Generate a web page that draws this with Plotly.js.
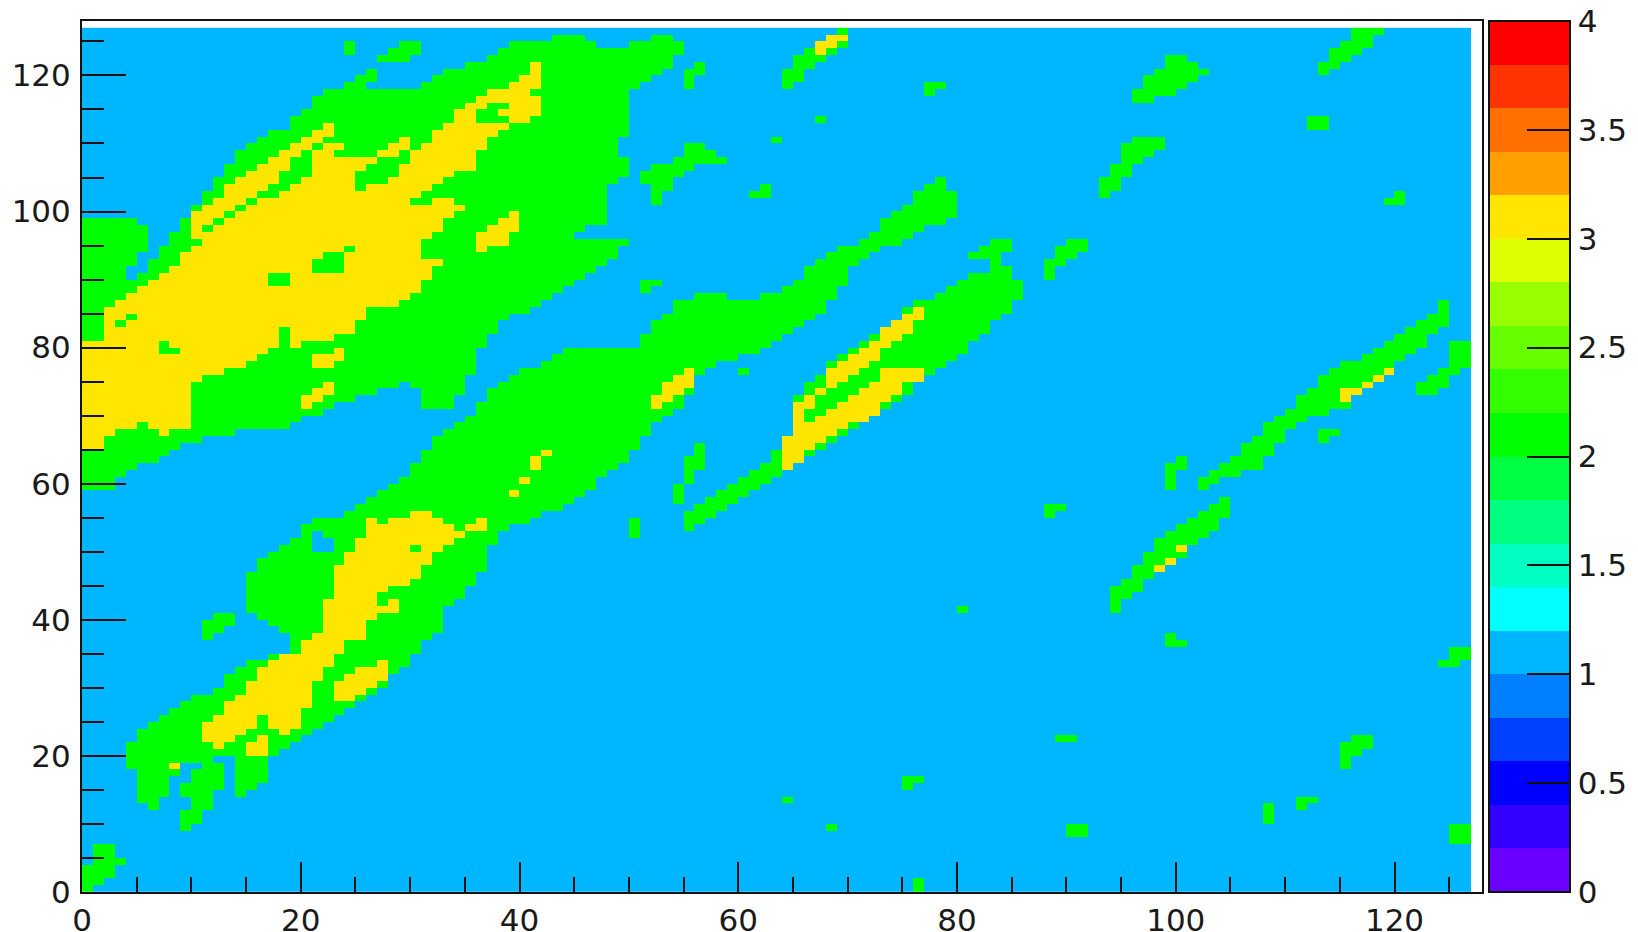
<!DOCTYPE html>
<html><head><meta charset="utf-8">
<script src="https://cdn.plot.ly/plotly-3.0.1.min.js"></script>
<style>html,body{margin:0;padding:0;background:#fff;overflow:hidden}#p{width:1638px;height:932px}</style>
</head><body><div id="p"></div>
<script>
// Each row: [y, from, to, from, to, ...]
const greenA=[[59,0,3],[60,0,3.5],[61,0,4],[62,0,5.5],[63,0,7],[64,0,8],[65,0,9.5],[66,0,11],[67,0,14.5],[68,0,19],[69,0,20],[70,0,22],
[71,0,23,31,34],[72,0,25,31,34.5],[73,0,27,31,35],[74,0,29,30.5,35.5],[75,0,35.5],[76,0,36],[77,0,36],[78,0,36.5],[79,0,36.5],[80,0,37],[81,0,37],[82,0,38],[83,0,38],[84,0,39.5],[85,0,41],[86,0,42],[87,0,43],[88,0,44],[89,0,45],
[90,0,4,5.5,46],[91,0,4,6,47],[92,0,5,6.5,48],[93,0,5.5,7,49],[94,0,6,7.5,49.5],[95,0,6,8,50],[96,0,6,8.5,45],[97,0,6,9,46.5],[98,0,5.5,9.5,48],
[99,10,48.5],[100,10.5,48.5],[101,11,48],[102,11.5,48],[103,12,48.5],[104,12.5,49.5],[105,13,50],[106,13.5,50.4],[107,14,50],[108,14.5,49],[109,15,49],[110,16,49.5],[111,17.5,50],[112,19,50],[113,19.5,50],[114,20,50],[115,20.8,50],[116,21.5,50],[117,22.5,50],
[118,24,26,31,51],[119,25,27.5,32,52],[120,26,27,33,53],[121,35,54],[122,27.5,30,37,54.4],[123,24,25.5,28,31,38,55],[124,24,25,29.5,31,39.5,47,50,55],[125,43,46,52,54]];
const greenB=[[9,9,10.5],[10,9,11],[11,9.5,11.5],[12,6,7,10,12],[13,5.5,7.5,10,12.5],[14,5.2,8,9.5,12.5,14.5,15.5],[15,5,8,9.5,13,14.5,16],[16,5,8,10,13.5,14,17],[17,4.7,8.7,10.5,13.5,14,17],[18,4.5,9.5,11,13,14,17],[19,4,12.5,14,17],
[20,4,18],[21,4.5,19],[22,5,20],[23,5,21.5],[24,6,22],[25,7,23],[26,8,24],[27,9,25],[28,10.5,26],[29,12.3,27],[30,12.8,27.7],[31,13.3,28.5],[32,13.8,29],[33,15,30],[34,17,30.5],[35,19,31],[36,19.5,31.5],
[37,11.5,12.5,19.3,32],[38,11,13,18.5,33],[39,11.5,14,17.5,33],[40,12.5,14.5,16,33],[41,15,33.3],[42,14.8,34],[43,14.7,34.7],[44,15,35.5],[45,15.3,36],[46,15.5,36.5],[47,15.8,37],[48,16.5,37],[49,17.5,37.2],
[50,18.5,21,22.6,37.5],[51,19.5,21,22.6,37.8],[52,20,21,22.3,38],[53,20.5,39.5],[54,21.5,41],[55,24,42.5],[56,25,44],[57,26,45],[58,27,46],[59,28,46.7],[60,29,47],[61,30,48],[62,30.5,49],[63,31,49.7],[64,31.5,50.3],[65,32,51],[66,32.5,51.3],[67,33.5,51.7],[68,34.5,52],[69,35,53],[70,35.7,54],[71,36.3,54.8],[72,37,55.5],[73,37.5,56],[74,38,56.2],[75,39,56.5],[76,40.5,57],[77,42,58],[78,43.5,60.5],[79,44,62],[80,50.7,63],[81,51.3,63.8],[82,52,65],[83,52.5,66.3],[84,53,67.2],[85,53.7,68],[86,54.5,68.5],[87,56,59,62.5,69],[88,64.5,69.3],[89,65.2,69.6],[90,65.8,69.8],[91,66.4,70],[92,67,70.7],[93,68.2,72],[94,69.5,73.5],[95,71,74.8],[96,72,76],[97,73,77.3],[98,73.5,78.7],[99,74.2,79.8],[100,75,80],[101,75.8,80],[102,76.5,79.7],[103,77.3,79],[104,77.7,78.8]];
const greenC=[[53,55,56.5],[54,55,57],[55,55.5,58],[56,56.5,59],[57,54,55,57,60],[58,54,55.5,58,61],[59,54.3,55.5,59,62],[60,54.7,56,60.5,63],[61,55,56.5,61.5,64.5],[62,55.2,57,62,65],[63,55.5,57.5,63,66],[64,56,57.5,63.5,67],[65,56.5,57.5,64.2,68.2],[66,64.5,69],[67,64.6,70],[68,64.8,71.3],[69,64.8,72],[70,65,73],[71,65.2,74],[72,65.4,75],[73,65.8,75.8],[74,66.2,76.5],[75,66.7,77.5],[76,67.7,78.5],[77,68.5,79],[78,69.5,80],[79,70.2,80.7],[80,71.5,81.5],[81,71.8,82],[82,72.8,82.8],[83,74,83.3],[84,75,84],[85,75.5,84.7],[86,76.5,85.2],[87,78,85.6],[88,79,85.8],[89,80,85.6],[90,81,85.4],[91,83,85],[92,83.5,84.5],[93,81,84.5],[94,82,85],[95,83,85]];
const greenD=[[59,99,99.7,101.8,103],[60,99,100,102.5,104.5],[61,99,100,103.5,105.8],[62,99.5,101,104.5,108],[63,100,101.5,105,108.5],[64,105.7,109],[65,106.3,109.5],[66,107,110,113.5,114.5],[67,108,110.5,113.5,115],[68,108.5,111.5],[69,109.5,112.5],[70,110,114.5],[71,110.8,115.8],[72,111.5,116.5],[73,112,117.2,122.5,124],[74,113,118,122.5,124.8],[75,113.5,118.7,123.5,125.5],[76,114.5,119.5,124.5,126],[77,115.5,120,124.8,126.8],[78,116.8,121,125,127],[79,118,122,125,127],[80,119,122.7,125.5,127],[81,120,123.3],[82,120.7,124],[83,121.7,125],[84,122.8,125.5],[85,124,125.5],[86,124.5,125],
[41,94,95],[42,93.7,95.5],[43,93.7,96.2],[44,94.5,97],[45,95,97.5],[46,95.7,98],[47,96.3,99],[48,97,100],[49,97.3,100.7],[50,97.8,101.5],[51,98.5,102.5],[52,99.5,103.4],[53,100.5,104],[54,101.3,104.5],[55,102,105,88,89],[56,103,105.5,88,90],[57,104.3,105.5]];
const greenIslands=[[0,0,1.5,76,77.5],[1,0,2,76,77],[2,0,3],[3,0,3.5],[4,1,4],[5,1.5,3.5],[6,1.5,3],[7,2,2.5,125.5,127],[8,90,92,125,127],[9,68,69,90,92,125,127],[10,108,109],[11,108,109],[12,108,109,111,112],[13,64,65,111,113],[15,74.7,76],[16,75,77],[18,114.8,116],[19,115,116.5],[20,115,117],[21,115.5,118],[22,89.5,91,116,118],[33,124.5,126],[34,125,127],[35,125.5,127],[36,99,101],[37,99.5,100.5],[41,80,81],[52,50,51],[53,50,51],[54,50.3,51],[76,60,61],
[88,51.5,52.5],[89,51,53],[90,88,89],[91,88,89.5],[92,88.5,90.5],[93,89,91.5],[94,89.5,92],[95,90,92],[96,90.7,91.5],
[101,52,53,119,121],[102,52,53.5,61,63,93,94.5,120,121],[103,52.2,54,62,63,93,95],[104,51.3,54.5,93.5,95.5],[105,51.5,55.5,94,96],[106,52,56,94.3,96.5],[107,54,59,94.8,97],[108,55,58.5,95,98],[109,55.5,57,95.5,99],[110,63,64,96.5,99],
[112,112,114],[113,67.5,68.5,112.5,114],[116,96.5,98.5],[117,77.5,78.5,96.5,100],[118,54.8,56,64.5,65.5,77.5,79,97,101.5],[119,55,56.5,64,66,97.5,102.5],[120,55.5,57,64.5,66.5,98,103,113,114.5],[121,56,57,65,67.5,99,102,113.2,115.5],[122,65.5,68.5,99.5,101,114,116.5],[123,66.5,69,114.5,117],[124,67,70,115,118],[125,68,70.5,116,118.5],[126,69,70.5,116.5,119.5]];
const yellowA=[[65,0,2],[66,0,2.5],[67,0,3.5,7,8],[68,0,5,6,10],[69,0,10],[70,0,10],[71,0,10,20,21.5],[72,0,10,20.5,22],[73,0,10,21,23],[74,0,10.5,22,23],[75,0,11.5],[76,0,13],[77,0,15,21,23],[78,0,16.5,21,24],[79,0,7.5,9,17.5,23,24.5],[80,0,7,8,18,19,20.5],
[81,2,18,19,23.5],[82,2.5,18,19,25],[83,2,3,4,25.5],[84,2,4,5.5,26],[85,2,26.5],[86,3,29],[87,4,30.5],[88,5,31],[89,6,17,19,31.5],[90,7.5,17,19,32],[91,8,21,24,32],[92,9,21,24,33.5],[93,9.5,22,24,31],[94,10.5,24.5,25,31,36,37.5],[95,11,31.5,36,39],[96,10,11,11.5,32,36.5,39.5],[97,10,11.5,12.5,33,37,40],[98,10,12.5,13.5,33.5,38,40],[99,10.5,13.5,14.5,34.5,39,40],[100,11,14.5,15.5,35],
[101,12,15,16.5,30,32.5,34.5],[102,13,16,18,31.5],[103,13.5,17,19.5,25.5,26.5,32],[104,14,18,20,25.5,28,33],[105,15,18.5,21,25.5,29,34],[106,16,19,21,26,29.5,36],[107,17.5,19.5,21,27.5,30,36],[108,18,20.5,21.5,23.5,27,29,30.5,36.5],[109,19.5,21,22,24,28,30,31,37],[110,20.5,22,29,30,31.8,37.5],[111,21,23,32.5,38],[112,22,23.5,33,39.5],[113,34,36,39,41],[114,34.5,36,38.5,42.5],[115,35,37,39,42.5],[116,36,42],[117,37,41.5],[118,39.5,42],[119,40.5,42],[120,41,42],[121,41.5,42.5]];
const yellowB=[[18,8,9],[20,15.5,17],[21,12.5,13.5,15,17],[22,11.5,14.5,16,17],[23,11,15,18,19.5],[24,11.5,16.5,17.2,19.8],[25,12,16.3,17.2,20],[26,12.7,20.3],[27,13.3,20.6],[28,14,21,23,25.5],[29,14.8,21.2,23,26],[30,15.5,21.4,23,27],[31,16,21.7,24.2,27.8],[32,16.5,22,25.5,28.2],[33,17.5,22.7,27,28.5],[34,18.5,23.5],[35,19.9,24],[36,20.5,24.5],[37,21,26],[38,21.7,25.8],[39,22,26.5],[40,22,27],[41,22.3,26.8,27.5,29],[42,22.4,27,28,29],[43,22.7,27.5],[44,22.8,28.5],[45,23,30],[46,23.2,31],[47,23.5,31.5],[48,24,32],[49,24.2,32.5],[50,24.8,30,31,33],[51,25.2,34],[52,25.7,35],[53,26,34.5,35,37],[54,26.5,27.5,28.5,33,35.7,37],[55,30,32],
[58,39,40],[60,40,41],[62,41,42],[63,41,42],[64,42,43],[71,52,53],[72,52,54],[73,53,55.5],[74,53.5,56],[75,54,56],[76,54.7,56]];
const yellowC=[[62,64.3,65],[63,64.2,65.7],[64,64.2,66.2],[65,64.3,67],[66,64.5,68],[67,64.6,69.5],[68,64.7,70.5],[69,65,66.5,67.5,72],[70,65.2,66,68,72.8],[71,65.5,67.2,69,73.5],[72,66.5,67.5,70.2,74.5],[73,67,68,71,75],[74,67.7,69,72,75.5],[75,68,70,73,77],[76,68.5,71,73.5,77],[77,69,72],[78,70,73],[79,71,73.5],[80,72,74.5],[81,73,75],[82,73.5,76],[83,74.5,76.5],[84,75.5,77],[85,76.5,77.5]];
const yellowSmall=[[47,98,99],[48,99,100],[50,100,101],[72,115,115.8],[73,115.5,116.8],[74,116.7,118],[75,118,119.3],[76,119,120],[123,66.8,68],[124,67.5,69.5],[125,68.5,70.2]];
const levels={background:1.1,green:2.1,yellow:3.1};
const colorBands=['#6a00ff','#3300ff','#0000ff','#0040ff','#0080ff','#00b7ff','#00ffff','#00ffc0','#00ff80','#00ff40','#00ff00','#33ff00','#66ff00','#99ff00','#ddff00','#ffe600','#ffa000','#ff7000','#ff3300','#ff0000'];
const tickVals=[0,0.5,1,1.5,2,2.5,3,3.5,4];
const tickText=['0','0.5','1','1.5','2','2.5','3','3.5','4'];

const N=127, z=[];
for(let j=0;j<N;j++){z.push(new Array(N).fill(levels.background));}
function paint(rows,v){rows.forEach(r=>{for(let k=1;k<r.length;k+=2){for(let i=0;i<N;i++){if(i+0.5>=r[k]&&i+0.5<r[k+1])z[r[0]][i]=v;}}});}
[greenA,greenB,greenC,greenD,greenIslands].forEach(g=>paint(g,levels.green));
[yellowA,yellowB,yellowC,yellowSmall].forEach(g=>paint(g,levels.yellow));
const scale=[];colorBands.forEach((c,i)=>{scale.push([i/20,c]);scale.push([(i+1)/20,c]);});
const font={family:'DejaVu Sans, sans-serif',size:31,color:'#1a1a1a'};
const axis=(len,mlen,so)=>({range:[0,128],tick0:0,dtick:20,ticks:'inside',ticklen:len,tickwidth:2,tickcolor:'#111',showline:true,linecolor:'#111',linewidth:2,mirror:true,showgrid:false,zeroline:false,tickfont:font,ticklabelstandoff:so,
 minor:{dtick:5,ticks:'inside',ticklen:mlen,tickwidth:2,tickcolor:'#111',showgrid:false}});
Plotly.newPlot('p',[{type:'heatmap',z:z,x0:0.5,dx:1,y0:0.5,dy:1,zmin:0,zmax:4,colorscale:scale,hoverinfo:'skip',
 colorbar:{x:1.005,xanchor:'left',xpad:0,ypad:0,y:0,yanchor:'bottom',lenmode:'fraction',len:1,thicknessmode:'pixels',thickness:81,outlinewidth:2,outlinecolor:'#111',borderwidth:0,ticks:'inside',ticklen:44,tickwidth:2,tickcolor:'#111',tickmode:'array',tickvals:tickVals,ticktext:tickText,tickfont:font}}],
 {width:1638,height:932,margin:{l:82,r:156,t:21,b:40,pad:0,autoexpand:false},paper_bgcolor:'#fff',plot_bgcolor:'#fff',xaxis:axis(30,15,0),yaxis:axis(44,22,3),showlegend:false},{displayModeBar:false,staticPlot:true});
</script></body></html>
